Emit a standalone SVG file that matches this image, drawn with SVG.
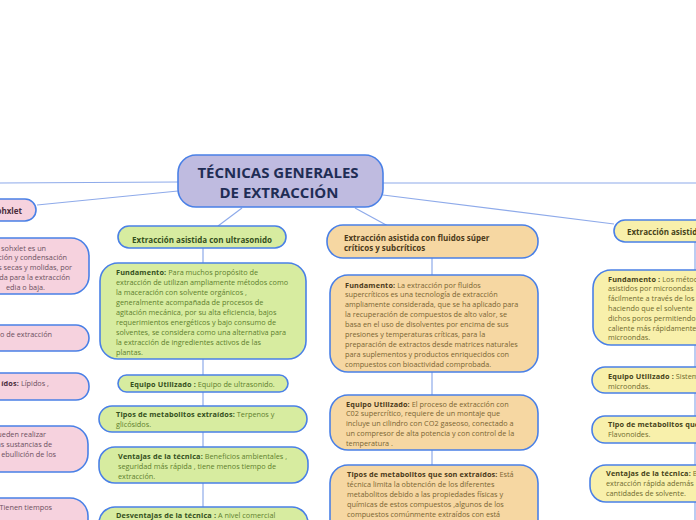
<svg xmlns="http://www.w3.org/2000/svg" width="696" height="520" viewBox="0 0 696 520">
<style>
text{font-family:"Open Sans","Noto Sans","Liberation Sans",sans-serif;font-size:7.3px}
.b{font-weight:bold;letter-spacing:0.15px}
.t{font-size:8px;letter-spacing:0}
.n{stroke:#4a80e6;stroke-width:1.6}
.g{fill:#d7eca0}.gt{fill:#5e7f2e}.gb{fill:#34501d}
.o{fill:#f6d7a2}.ot{fill:#7a6533}.ob{fill:#4b3a1a}
.y{fill:#f8f0ab}.yt{fill:#6f6a2f}.yb{fill:#46431a}
.p{fill:#f6d2de}.pt{fill:#6c5060}.pb{fill:#4a2d3c}
.c line{stroke:#8eaaea;stroke-width:1.2}
</style>
<rect width="696" height="520" fill="#ffffff"/>
<g class="c" id="connectors">
<line x1="0" y1="183" x2="178" y2="182"/>
<line x1="178" y1="191" x2="37" y2="205"/>
<line x1="383" y1="183" x2="696" y2="183"/>
<line x1="383" y1="195" x2="614" y2="224"/>
<line x1="242" y1="208" x2="218" y2="226"/>
<line x1="355" y1="208" x2="388" y2="226"/>
<line x1="203" y1="248" x2="203" y2="263"/>
<line x1="203" y1="359" x2="203" y2="375"/>
<line x1="203" y1="392" x2="203" y2="406"/>
<line x1="203" y1="432" x2="203" y2="447"/>
<line x1="203" y1="483" x2="203" y2="507"/>
<line x1="432" y1="258" x2="432" y2="275"/>
<line x1="432" y1="372" x2="432" y2="395"/>
<line x1="432" y1="450" x2="432" y2="465"/>
<line x1="695" y1="242" x2="695" y2="520"/>
</g>
<g id="central">
<rect class="n" x="178" y="155" width="205" height="52" rx="18" fill="#bfbbe0"/>
<text x="278" y="178" text-anchor="middle" style="font-size:15px;font-weight:bold" fill="#1f2d55">TÉCNICAS GENERALES</text>
<text x="279" y="198" text-anchor="middle" style="font-size:15px;font-weight:bold" fill="#1f2d55">DE EXTRACCIÓN</text>
</g>
<g id="ultrasonido">
<rect class="n g" x="118" y="226" width="168" height="22" rx="11"/>
<text x="202" y="242.5" text-anchor="middle" class="b t gb">Extracción asistida con ultrasonido</text>
</g>
<g id="us-fundamento">
<rect class="n g" x="100" y="263" width="206" height="96" rx="18"/>
<text class="gt"><tspan x="116" y="274.5" class="b gb">Fundamento:</tspan><tspan> Para muchos propósito de</tspan>
<tspan x="116" y="284.5">extracción de utilizan ampliamente métodos como</tspan>
<tspan x="116" y="294.5">la maceración con solvente orgánicos ,</tspan>
<tspan x="116" y="304.5">generalmente acompañada de procesos de</tspan>
<tspan x="116" y="314.5">agitación mecánica, por su alta eficiencia, bajos</tspan>
<tspan x="116" y="324.5">requerimientos energéticos y bajo consumo de</tspan>
<tspan x="116" y="334.5">solventes, se considera como una alternativa para</tspan>
<tspan x="116" y="344.5">la extracción de ingredientes activos de las</tspan>
<tspan x="116" y="354.5">plantas.</tspan></text>
</g>
<g id="us-equipo">
<rect class="n g" x="118" y="375" width="170" height="17" rx="8.5"/>
<text class="gt" x="130" y="386.5"><tspan class="b gb">Equipo Utilizado :</tspan> Equipo de ultrasonido.</text>
</g>
<g id="us-tipos">
<rect class="n g" x="99" y="406" width="208" height="26" rx="13"/>
<text class="gt"><tspan x="116" y="416.5" class="b gb">Tipos de metabolitos extraídos:</tspan><tspan> Terpenos y</tspan>
<tspan x="116" y="426.5">glicósidos.</tspan></text>
</g>
<g id="us-ventajas">
<rect class="n g" x="99" y="447" width="209" height="36" rx="16"/>
<text class="gt"><tspan x="118" y="458.5" class="b gb">Ventajas de la técnica:</tspan><tspan> Beneficios ambientales ,</tspan>
<tspan x="118" y="468.5">seguridad más rápida , tiene menos tiempo de</tspan>
<tspan x="118" y="478.5">extracción.</tspan></text>
</g>
<g id="us-desventajas">
<rect class="n g" x="99" y="507" width="209" height="40" rx="16"/>
<text class="gt" x="116" y="517.5"><tspan class="b gb">Desventajas de la técnica :</tspan> A nivel comercial</text>
</g>
<g id="fluidos">
<rect class="n o" x="327" y="225" width="211" height="33" rx="16"/>
<text class="b t ob"><tspan x="344" y="240.5">Extracción asistida con fluidos súper</tspan>
<tspan x="344" y="250.5">críticos y subcríticos</tspan></text>
</g>
<g id="fl-fundamento">
<rect class="n o" x="330" y="275" width="208" height="97" rx="18"/>
<text class="ot"><tspan x="345" y="287.5" class="b ob">Fundamento:</tspan><tspan> La extracción por fluidos</tspan>
<tspan x="345" y="297.4">supercríticos es una tecnología de extracción</tspan>
<tspan x="345" y="307.3">ampliamente considerada, que se ha aplicado para</tspan>
<tspan x="345" y="317.2">la recuperación de compuestos de alto valor, se</tspan>
<tspan x="345" y="327.1">basa en el uso de disolventes por encima de sus</tspan>
<tspan x="345" y="337">presiones y temperaturas críticas, para la</tspan>
<tspan x="345" y="346.9">preparación de extractos desde matrices naturales</tspan>
<tspan x="345" y="356.8">para suplementos y productos enriquecidos con</tspan>
<tspan x="345" y="366.7">compuestos con bioactividad comprobada.</tspan></text>
</g>
<g id="fl-equipo">
<rect class="n o" x="330" y="395" width="208" height="55" rx="18"/>
<text class="ot"><tspan x="346" y="406.5" class="b ob">Equipo Utilizado:</tspan><tspan> El proceso de extracción con</tspan>
<tspan x="346" y="416.3">C02 supercrítico, requiere de un montaje que</tspan>
<tspan x="346" y="426.1">incluye un cilindro con CO2 gaseoso, conectado a</tspan>
<tspan x="346" y="435.9">un compresor de alta potencia y con control de la</tspan>
<tspan x="346" y="445.7">temperatura .</tspan></text>
</g>
<g id="fl-tipos">
<rect class="n o" x="330" y="465" width="208" height="80" rx="18"/>
<text class="ot"><tspan x="347" y="476.5" class="b ob">Tipos de metabolitos que son extraídos:</tspan><tspan> Está</tspan>
<tspan x="347" y="486.5">técnica limita la obtención de los diferentes</tspan>
<tspan x="347" y="496.5">metabolitos debido a las propiedades físicas y</tspan>
<tspan x="347" y="506.5">químicas de estos  compuestos ,algunos de los</tspan>
<tspan x="347" y="516.5">compuestos comúnmente extraídos  con está</tspan></text>
</g>
<g id="microondas">
<rect class="n y" x="614" y="220" width="160" height="22" rx="11"/>
<text class="b t yb" x="627" y="234.5">Extracción asistida con microondas</text>
</g>
<g id="mi-fundamento">
<rect class="n y" x="593" y="270" width="200" height="75" rx="18"/>
<text class="yt"><tspan x="608" y="281.5" class="b yb">Fundamento :</tspan><tspan> Los métodos</tspan>
<tspan x="608" y="291.3">asistidos por microondas</tspan>
<tspan x="608" y="301.1">fácilmente a través de los</tspan>
<tspan x="608" y="310.9">haciendo que el solvente</tspan>
<tspan x="608" y="320.7">dichos poros permitiendo</tspan>
<tspan x="608" y="330.5">caliente más rápidamente</tspan>
<tspan x="608" y="340.3">microondas.</tspan></text>
</g>
<g id="mi-equipo">
<rect class="n y" x="592" y="367" width="200" height="26" rx="13"/>
<text class="yt"><tspan x="608" y="378.5" class="b yb">Equipo Utilizado :</tspan><tspan> Sistema de</tspan>
<tspan x="608" y="388.5">microondas.</tspan></text>
</g>
<g id="mi-tipo">
<rect class="n y" x="592" y="416" width="200" height="27" rx="13"/>
<text class="yt"><tspan x="608" y="426.5" class="b yb">Tipo de metabolitos que</tspan>
<tspan x="608" y="436.5">Flavonoides.</tspan></text>
</g>
<g id="mi-ventajas">
<rect class="n y" x="590" y="465" width="200" height="37" rx="16"/>
<text class="yt"><tspan x="606" y="475.5" class="b yb">Ventajas de la técnica:</tspan><tspan> B</tspan>
<tspan x="606" y="485.8">extracción rápida además</tspan>
<tspan x="606" y="496.1">cantidades de solvente.</tspan></text>
</g>
<g id="sohxlet">
<rect class="n p" x="-100" y="199" width="136" height="22" rx="11"/>
<text class="b t pb" x="22" y="213.5" text-anchor="end">ohxlet</text>
</g>
<g id="so-fundamento">
<rect class="n p" x="-120" y="238" width="209" height="56" rx="18"/>
<text class="pt" text-anchor="end"><tspan x="48" y="250.5">sohxlet es un</tspan>
<tspan x="69" y="260.3">ción y condensación</tspan>
<tspan x="74" y="270.1">s secas y molidas, por</tspan>
<tspan x="72" y="279.9">da para la extracción</tspan>
<tspan x="45" y="289.7">edia o baja.</tspan></text>
</g>
<g id="so-equipo">
<rect class="n p" x="-120" y="325" width="209" height="26" rx="13"/>
<text class="pt" x="52" y="336.5" text-anchor="end">o de extracción</text>
</g>
<g id="so-tipos">
<rect class="n p" x="-120" y="373" width="209" height="27" rx="13"/>
<text class="pt" x="49" y="385.5" text-anchor="end"><tspan class="b pb">ídos:</tspan> Lípidos ,</text>
</g>
<g id="so-ventajas">
<rect class="n p" x="-120" y="426" width="208" height="46" rx="18"/>
<text class="pt" text-anchor="end"><tspan x="48" y="436.5">ueden realizar</tspan>
<tspan x="54" y="446.5">as sustancias de</tspan>
<tspan x="56" y="456.5">ebullición de los</tspan></text>
</g>
<g id="so-desventajas">
<rect class="n p" x="-120" y="498" width="208" height="50" rx="18"/>
<text class="pt" x="52" y="509.5" text-anchor="end">Tienen tiempos</text>
</g>
</svg>
